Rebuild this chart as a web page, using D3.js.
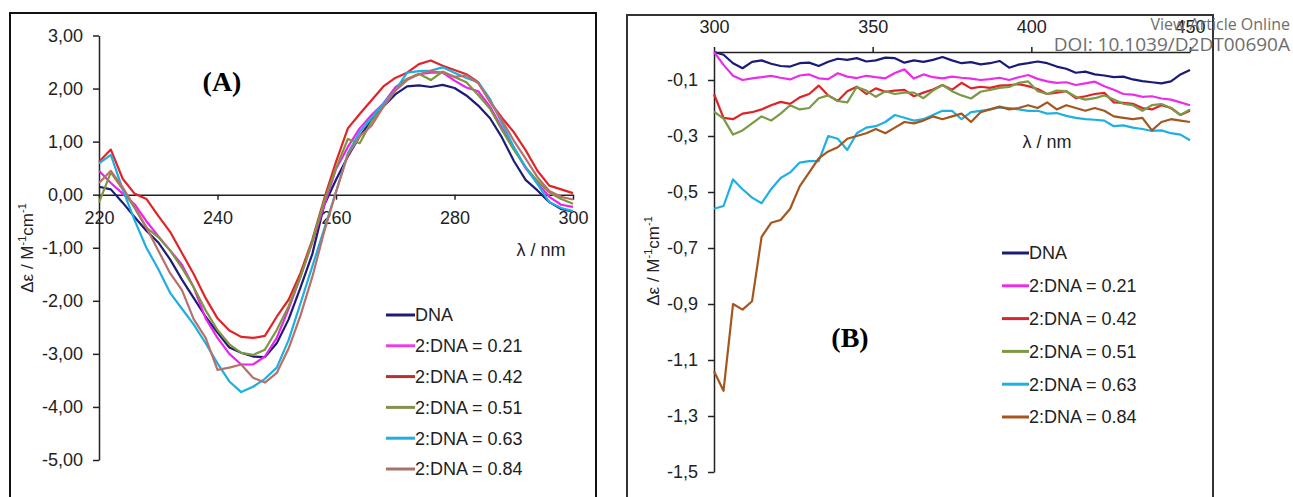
<!DOCTYPE html>
<html lang="en">
<head>
    <meta charset="UTF-8">
    <title>CD spectra</title>
    <script src="https://d3js.org/d3.v7.min.js"></script>
    <style>
        body { margin: 0; background: #fff; }
        text { font-family: "Liberation Sans", Arial, sans-serif; fill: #222; }
        .tick line, .domain { stroke: #222; stroke-width: 1.5; }
        .panel-tag { font-family: "Liberation Serif", "Times New Roman", serif; font-weight: bold; fill: #000; }
    </style>
</head>
<body>
<svg id="chart" width="1293" height="497"></svg>
<script>
    // series labels and colours
    const seriesNames = ["DNA", "2:DNA = 0.21", "2:DNA = 0.42", "2:DNA = 0.51", "2:DNA = 0.63", "2:DNA = 0.84"];
    const colorsA = ["#1c1c78", "#ee22ee", "#e0242a", "#7d983c", "#1eaee2", "#b8706a"];
    const legendColorsA = ["#1c1c78", "#e83ee8", "#b8302f", "#84904e", "#22aee2", "#a8726c"];
    const colorsB = ["#1a1a78", "#ea2ee8", "#de2428", "#7a9a46", "#1eb0e2", "#a5561e"];

    // panel A: 220-300 nm
    const wlA = [220, 222, 224, 226, 228, 230, 232, 234, 236, 238, 240, 242, 244, 246, 248, 250, 252, 254, 256, 258,
        260, 262, 264, 266, 268, 270, 272, 274, 276, 278, 280, 282, 284, 286, 288, 290, 292, 294, 296, 298, 300];
    const xTicksA = [220, 240, 260, 280, 300];
    const yTicksA = [3, 2, 1, 0, -1, -2, -3, -4, -5];

    const dnaA = [0.15, 0.10, -0.15, -0.42, -0.68, -0.90, -1.22, -1.60, -1.95, -2.30, -2.60, -2.88, -2.98, -3.05, -3.06, -2.80, -2.35, -1.75, -1.12, -0.20,
        0.28, 0.72, 1.10, 1.40, 1.66, 1.89, 2.04, 2.06, 2.03, 2.07, 2.01, 1.87, 1.68, 1.44, 1.08, 0.64, 0.28, 0.08, -0.14, -0.27, -0.32];
    const r021A = [0.45, 0.22, 0.02, -0.18, -0.50, -0.78, -1.05, -1.32, -1.75, -2.33, -2.70, -3.00, -3.20, -3.20, -3.05, -2.70, -2.15, -1.55, -0.90, -0.20,
        0.48, 0.90, 1.25, 1.50, 1.72, 2.02, 2.18, 2.27, 2.30, 2.30, 2.15, 2.02, 1.95, 1.66, 1.26, 0.88, 0.50, 0.22, -0.04, -0.19, -0.23];
    const r042A = [0.62, 0.85, 0.30, 0.02, -0.08, -0.40, -0.70, -1.10, -1.50, -1.95, -2.33, -2.56, -2.68, -2.70, -2.66, -2.30, -1.98, -1.48, -0.85, -0.08,
        0.62, 1.25, 1.52, 1.78, 2.04, 2.20, 2.30, 2.46, 2.53, 2.43, 2.35, 2.27, 2.12, 1.75, 1.45, 1.18, 0.84, 0.45, 0.17, 0.10, 0.03];
    const r051A = [-0.15, 0.42, 0.10, -0.25, -0.62, -0.80, -1.05, -1.38, -1.75, -2.18, -2.55, -2.82, -2.98, -3.02, -2.92, -2.55, -2.10, -1.55, -0.88, -0.12,
        0.50, 1.05, 0.97, 1.38, 1.66, 1.96, 2.18, 2.28, 2.16, 2.32, 2.22, 2.12, 1.88, 1.62, 1.22, 0.85, 0.52, 0.26, 0.04, -0.08, -0.17];
    const r063A = [0.59, 0.75, 0.10, -0.48, -1.00, -1.40, -1.85, -2.15, -2.45, -2.80, -3.18, -3.52, -3.72, -3.62, -3.47, -3.26, -2.74, -2.05, -1.35, -0.65,
        0.05, 0.78, 1.18, 1.45, 1.72, 1.96, 2.30, 2.33, 2.34, 2.40, 2.30, 2.20, 2.12, 1.80, 1.35, 0.90, 0.52, 0.20, -0.14, -0.25, -0.31];
    const r084A = [0.22, 0.45, 0.14, -0.23, -0.62, -1.05, -1.48, -1.80, -2.35, -2.70, -3.30, -3.26, -3.20, -3.45, -3.54, -3.36, -2.90, -2.28, -1.55, -0.70,
        0.05, 0.75, 1.10, 1.30, 1.66, 1.96, 2.16, 2.27, 2.33, 2.30, 2.22, 2.25, 2.10, 1.76, 1.40, 1.02, 0.68, 0.33, 0.07, -0.04, -0.09];

    // panel B: 300-450 nm
    const wlB = [300, 303, 306, 309, 312, 315, 318, 321, 324, 327, 330, 333, 336, 339, 342, 345, 348, 351, 354, 357,
        360, 363, 366, 369, 372, 375, 378, 381, 384, 387, 390, 393, 396, 399, 402, 405, 408, 411, 414, 417,
        420, 423, 426, 429, 432, 435, 438, 441, 444, 447, 450];
    const xTicksB = [300, 350, 400, 450];
    const yTicksB = [-0.1, -0.3, -0.5, -0.7, -0.9, -1.1, -1.3, -1.5];

    const dnaB = [0.00, -0.01, -0.04, -0.058, -0.035, -0.03, -0.042, -0.05, -0.052, -0.04, -0.038, -0.05, -0.035, -0.024, -0.028, -0.022, -0.034, -0.03, -0.02, -0.022,
        -0.038, -0.03, -0.035, -0.028, -0.018, -0.03, -0.04, -0.036, -0.044, -0.04, -0.032, -0.056, -0.045, -0.04, -0.034, -0.04, -0.052, -0.06, -0.074, -0.07,
        -0.08, -0.084, -0.09, -0.088, -0.098, -0.104, -0.108, -0.112, -0.105, -0.08, -0.064];
    const r021B = [0.00, -0.046, -0.085, -0.10, -0.094, -0.09, -0.085, -0.092, -0.098, -0.084, -0.08, -0.094, -0.097, -0.076, -0.088, -0.093, -0.085, -0.09, -0.094, -0.075,
        -0.062, -0.095, -0.08, -0.09, -0.094, -0.088, -0.092, -0.095, -0.10, -0.097, -0.092, -0.10, -0.09, -0.082, -0.096, -0.105, -0.11, -0.108, -0.118, -0.112,
        -0.106, -0.122, -0.135, -0.15, -0.152, -0.16, -0.158, -0.166, -0.17, -0.18, -0.19];
    const r042B = [-0.15, -0.235, -0.24, -0.22, -0.215, -0.205, -0.19, -0.178, -0.185, -0.162, -0.15, -0.12, -0.155, -0.175, -0.14, -0.124, -0.15, -0.13, -0.142, -0.138,
        -0.135, -0.158, -0.145, -0.134, -0.118, -0.135, -0.11, -0.13, -0.124, -0.128, -0.12, -0.118, -0.115, -0.122, -0.132, -0.15, -0.145, -0.14, -0.165, -0.158,
        -0.15, -0.146, -0.18, -0.182, -0.185, -0.20, -0.205, -0.19, -0.20, -0.225, -0.21];
    const r051B = [-0.213, -0.238, -0.295, -0.28, -0.255, -0.23, -0.245, -0.22, -0.19, -0.205, -0.20, -0.165, -0.155, -0.175, -0.18, -0.125, -0.138, -0.16, -0.14, -0.15,
        -0.145, -0.145, -0.165, -0.138, -0.118, -0.14, -0.155, -0.166, -0.142, -0.135, -0.128, -0.125, -0.11, -0.105, -0.14, -0.15, -0.138, -0.14, -0.16, -0.17,
        -0.165, -0.155, -0.17, -0.185, -0.19, -0.21, -0.19, -0.186, -0.20, -0.225, -0.205];
    const r063B = [-0.56, -0.55, -0.455, -0.49, -0.52, -0.54, -0.49, -0.45, -0.43, -0.395, -0.39, -0.39, -0.30, -0.31, -0.35, -0.29, -0.27, -0.265, -0.25, -0.225,
        -0.235, -0.245, -0.24, -0.225, -0.21, -0.21, -0.24, -0.215, -0.21, -0.205, -0.198, -0.20, -0.205, -0.21, -0.21, -0.22, -0.218, -0.228, -0.235, -0.24,
        -0.242, -0.245, -0.265, -0.262, -0.27, -0.275, -0.282, -0.28, -0.29, -0.295, -0.315];
    const r084B = [-1.14, -1.21, -0.90, -0.92, -0.89, -0.66, -0.61, -0.60, -0.56, -0.48, -0.43, -0.38, -0.355, -0.34, -0.31, -0.30, -0.29, -0.275, -0.29, -0.27,
        -0.25, -0.255, -0.245, -0.23, -0.24, -0.23, -0.22, -0.25, -0.215, -0.205, -0.195, -0.205, -0.20, -0.19, -0.20, -0.18, -0.205, -0.19, -0.20, -0.21,
        -0.20, -0.21, -0.23, -0.235, -0.24, -0.235, -0.28, -0.25, -0.24, -0.245, -0.25];

    const seriesA = [dnaA, r021A, r042A, r051A, r063A, r084A];
    const seriesB = [dnaB, r021B, r042B, r051B, r063B, r084B];

    const svg = d3.select("#chart");
    const comma = digits => d => d.toFixed(digits).replace(".", ",");
    const tickFont = g => g.selectAll("text").attr("font-size", 18).attr("font-family", "Liberation Sans, Arial").attr("fill", "#222");

    // frames round each panel
    svg.append("rect").attr("x", 10).attr("y", 13).attr("width", 586).attr("height", 490)
        .attr("fill", "none").attr("stroke", "#111").attr("stroke-width", 2);
    svg.append("rect").attr("x", 627).attr("y", 15).attr("width", 586).attr("height", 490)
        .attr("fill", "none").attr("stroke", "#333").attr("stroke-width", 2);

    // ---------- panel A ----------
    const xA = d3.scaleLinear().domain([220, 300]).range([99, 573]);
    const yA = d3.scaleLinear().domain([-5, 3]).range([460, 35.5]);

    const gA = svg.append("g");
    gA.append("g")
        .attr("transform", `translate(0,${yA(0)})`)
        .call(d3.axisBottom(xA).tickValues(xTicksA).tickSize(5).tickSizeOuter(0).tickPadding(12))
        .call(tickFont);
    gA.append("g")
        .attr("transform", `translate(${xA(220)},0)`)
        .call(d3.axisLeft(yA).tickValues(yTicksA).tickFormat(comma(2)).tickSize(6).tickSizeOuter(0).tickPadding(10))
        .call(tickFont);

    const lineA = d3.line().x((d, i) => xA(wlA[i])).y(d => yA(d));
    gA.selectAll("path.series")
        .data(seriesA)
        .join("path")
        .attr("class", "series")
        .attr("d", lineA)
        .attr("fill", "none")
        .attr("stroke", (d, i) => colorsA[i])
        .attr("stroke-width", 2.2)
        .attr("stroke-linejoin", "round");

    gA.append("text").attr("class", "panel-tag").attr("x", 222).attr("y", 91)
        .attr("text-anchor", "middle").attr("font-size", 28).text("(A)");
    gA.append("text").attr("x", 541).attr("y", 256).attr("text-anchor", "middle")
        .attr("font-size", 18).text("λ / nm");

    const yLabelA = gA.append("text").attr("transform", "translate(33,248) rotate(-90)")
        .attr("text-anchor", "middle").attr("font-size", 17);
    yLabelA.append("tspan").text("Δε / M");
    yLabelA.append("tspan").attr("font-size", 11).attr("dy", -7).text("-1");
    yLabelA.append("tspan").attr("dy", 7).text("cm");
    yLabelA.append("tspan").attr("font-size", 11).attr("dy", -7).text("-1");

    const legA = gA.append("g").selectAll("g")
        .data(seriesNames)
        .join("g")
        .attr("transform", (d, i) => `translate(386,${315 + i * 30.8})`);
    legA.append("line").attr("x1", 0).attr("x2", 29)
        .attr("stroke", (d, i) => legendColorsA[i]).attr("stroke-width", 3);
    legA.append("text").attr("x", 29).attr("dy", "0.36em").attr("font-size", 18).text(d => d);

    // ---------- panel B ----------
    const xB = d3.scaleLinear().domain([300, 450]).range([714, 1190]);
    const yB = d3.scaleLinear().domain([-1.5, 0]).range([472, 52]);

    const gB = svg.append("g");
    gB.append("g")
        .attr("transform", `translate(0,${yB(0)})`)
        .call(d3.axisTop(xB).tickValues(xTicksB).tickSize(5).tickSizeOuter(0).tickPadding(14))
        .call(tickFont);
    gB.append("g")
        .attr("transform", `translate(${xB(300)},0)`)
        .call(d3.axisLeft(yB).tickValues(yTicksB).tickFormat(comma(1)).tickSize(6).tickSizeOuter(0).tickPadding(10))
        .call(tickFont);

    const lineB = d3.line().x((d, i) => xB(wlB[i])).y(d => yB(d));
    gB.selectAll("path.series")
        .data(seriesB)
        .join("path")
        .attr("class", "series")
        .attr("d", lineB)
        .attr("fill", "none")
        .attr("stroke", (d, i) => colorsB[i])
        .attr("stroke-width", 2.2)
        .attr("stroke-linejoin", "round");

    gB.append("text").attr("class", "panel-tag").attr("x", 850).attr("y", 347)
        .attr("text-anchor", "middle").attr("font-size", 28).text("(B)");
    gB.append("text").attr("x", 1047).attr("y", 148).attr("text-anchor", "middle")
        .attr("font-size", 18).text("λ / nm");

    const yLabelB = gB.append("text").attr("transform", "translate(659,261) rotate(-90)")
        .attr("text-anchor", "middle").attr("font-size", 17);
    yLabelB.append("tspan").text("Δε / M");
    yLabelB.append("tspan").attr("font-size", 11).attr("dy", -7).text("-1");
    yLabelB.append("tspan").attr("dy", 7).text("cm");
    yLabelB.append("tspan").attr("font-size", 11).attr("dy", -7).text("-1");

    const legB = gB.append("g").selectAll("g")
        .data(seriesNames)
        .join("g")
        .attr("transform", (d, i) => `translate(1002,${253 + i * 32.8})`);
    legB.append("line").attr("x1", 0).attr("x2", 27)
        .attr("stroke", (d, i) => colorsB[i]).attr("stroke-width", 3);
    legB.append("text").attr("x", 27).attr("dy", "0.36em").attr("font-size", 18).text(d => d);

    // journal watermark, top right (it sits over the 450 label, as in the source)
    const wm = svg.append("g");
    wm.append("text").attr("x", 1290).attr("y", 30).attr("text-anchor", "end")
        .attr("font-size", 16).style("font-family", "Open Sans, sans-serif").style("fill", "#6e6e6e").text("View Article Online");
    wm.append("text").attr("x", 1290).attr("y", 51).attr("text-anchor", "end")
        .attr("font-size", 19).style("font-family", "Open Sans, sans-serif").style("fill", "#6e6e6e").text("DOI: 10.1039/D2DT00690A");
</script>
</body>
</html>
